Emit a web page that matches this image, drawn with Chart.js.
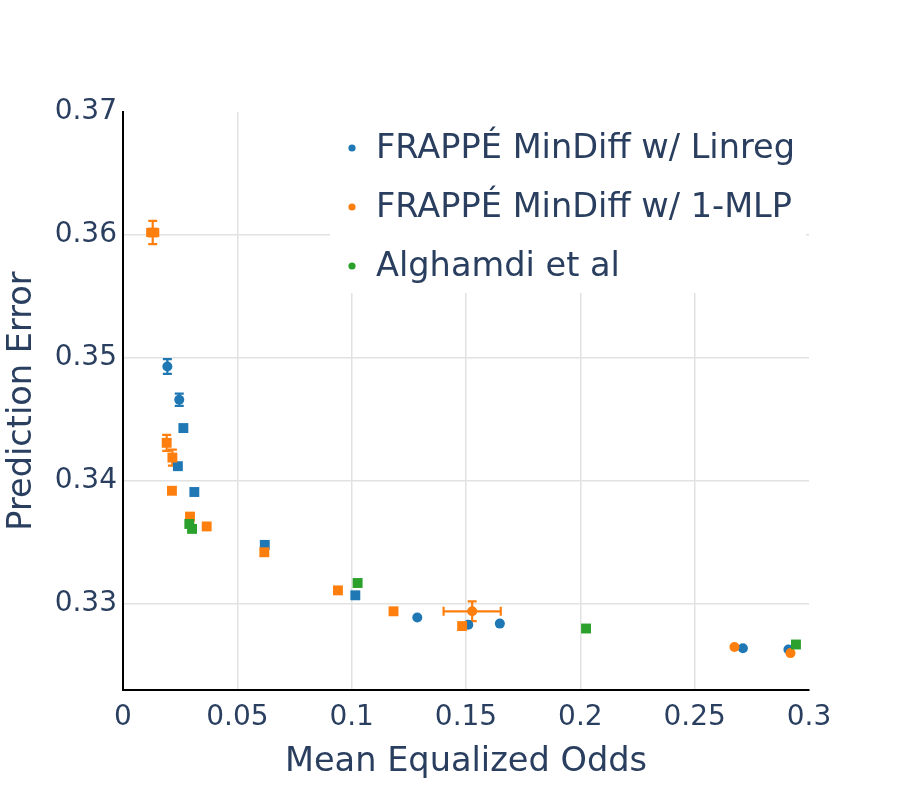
<!DOCTYPE html>
<html>
<head>
<meta charset="utf-8">
<script src="https://cdn.jsdelivr.net/npm/chart.js@4.4.0/dist/chart.umd.min.js"></script>
<style>
  html, body { margin: 0; padding: 0; background: #fff; }
  #wrap { width: 900px; height: 787px; }
</style>
</head>
<body>
<div id="wrap"><canvas id="chart"></canvas></div>
<script>
const seriesNames = ['FRAPPÉ MinDiff w/ Linreg', 'FRAPPÉ MinDiff w/ 1-MLP', 'Alghamdi et al'];
const seriesColors = ['#1f77b4', '#ff7f0e', '#2ca02c'];
const xTicks = [0, 0.05, 0.1, 0.15, 0.2, 0.25, 0.3];
const yTicks = [0.33, 0.34, 0.35, 0.36, 0.37];

// Linreg runs, round markers (ex / ey = error bar half length)
const linregRound = [
  { x: 0.0194, y: 0.3493, ey: 0.0006 },
  { x: 0.0246, y: 0.3466, ey: 0.0005 },
  { x: 0.1287, y: 0.3289 },
  { x: 0.1510, y: 0.3283 },
  { x: 0.1648, y: 0.3284 },
  { x: 0.2711, y: 0.3264 },
  { x: 0.2910, y: 0.3263 },
];
// Linreg runs, square markers
const linregSquare = [
  { x: 0.0264, y: 0.3443 },
  { x: 0.0240, y: 0.3412 },
  { x: 0.0312, y: 0.3391 },
  { x: 0.0620, y: 0.3348 },
  { x: 0.1016, y: 0.3307 },
];
const mlpRound = [
  { x: 0.1527, y: 0.3294, ex: 0.0125, ey: 0.0008 },
  { x: 0.2674, y: 0.3265 },
  { x: 0.2919, y: 0.3260 },
];
const mlpSquare = [
  { x: 0.0130, y: 0.3602, ex: 0.0024, ey: 0.00095 },
  { x: 0.0191, y: 0.3431, ey: 0.00065 },
  { x: 0.0216, y: 0.3419, ey: 0.00065 },
  { x: 0.0214, y: 0.3392 },
  { x: 0.0293, y: 0.3371 },
  { x: 0.0366, y: 0.3363 },
  { x: 0.0618, y: 0.3342 },
  { x: 0.0940, y: 0.3311 },
  { x: 0.1183, y: 0.3294 },
  { x: 0.1483, y: 0.3282 },
];
const alghamdiSquare = [
  { x: 0.0290, y: 0.3365 },
  { x: 0.0302, y: 0.3361 },
  { x: 0.1026, y: 0.3317 },
  { x: 0.2025, y: 0.3280 },
  { x: 0.2943, y: 0.3267 },
];

const textColor = '#2a3f5f';
const fontFamily = "'DejaVu Sans', sans-serif";

let mkSet = (series, data, square, order) => ({
  label: seriesNames[series],
  data: data,
  backgroundColor: seriesColors[series],
  borderColor: seriesColors[series],
  borderWidth: 0,
  pointStyle: square ? 'rect' : 'circle',
  pointRadius: square ? 7 : 5,
  pointHoverRadius: square ? 7 : 5,
  order: order,
});

// error bars, drawn with the chart's own scales
const errorBars = {
  id: 'errorBars',
  beforeDatasetsDraw(chart) {
    const { ctx, scales } = chart;
    const cap = 4.5;
    ctx.save();
    ctx.lineWidth = 2.2;
    chart.data.datasets.forEach((ds) => {
      ctx.strokeStyle = ds.borderColor;
      ds.data.forEach((p) => {
        const px = scales.x.getPixelForValue(p.x);
        const py = scales.y.getPixelForValue(p.y);
        ctx.beginPath();
        if (p.ey) {
          const y0 = scales.y.getPixelForValue(p.y - p.ey);
          const y1 = scales.y.getPixelForValue(p.y + p.ey);
          ctx.moveTo(px, y0); ctx.lineTo(px, y1);
          ctx.moveTo(px - cap, y0); ctx.lineTo(px + cap, y0);
          ctx.moveTo(px - cap, y1); ctx.lineTo(px + cap, y1);
        }
        if (p.ex) {
          const x0 = scales.x.getPixelForValue(p.x - p.ex);
          const x1 = scales.x.getPixelForValue(p.x + p.ex);
          ctx.moveTo(x0, py); ctx.lineTo(x1, py);
          ctx.moveTo(x0, py - cap); ctx.lineTo(x0, py + cap);
          ctx.moveTo(x1, py - cap); ctx.lineTo(x1, py + cap);
        }
        ctx.stroke();
      });
    });
    ctx.restore();
  },
};

// legend box inside the plot, like the original
const insideLegend = {
  id: 'insideLegend',
  afterDatasetsDraw(chart) {
    const { ctx } = chart;
    ctx.save();
    ctx.fillStyle = '#ffffff';
    ctx.fillRect(330, 100, 476, 193);
    ctx.font = '33.6px ' + fontFamily;
    ctx.textBaseline = 'middle';
    seriesNames.forEach((name, i) => {
      const y = 148 + i * 59;
      ctx.fillStyle = seriesColors[i];
      ctx.beginPath();
      ctx.arc(352, y, 3.6, 0, Math.PI * 2);
      ctx.fill();
      ctx.fillStyle = textColor;
      ctx.fillText(name, 376, y + 1);
    });
    ctx.restore();
  },
};

new Chart(document.getElementById('chart'), {
  type: 'scatter',
  data: {
    datasets: [
      mkSet(0, linregRound, false, 5),
      mkSet(0, linregSquare, true, 4),
      mkSet(1, mlpRound, false, 3),
      mkSet(1, mlpSquare, true, 2),
      mkSet(2, alghamdiSquare, true, 1),
    ],
  },
  options: {
    responsive: true,
    maintainAspectRatio: false,
    animation: false,
    layout: { padding: { left: 0, top: 112, right: 91, bottom: 0 } },
    plugins: {
      legend: { display: false },
      tooltip: { enabled: false },
    },
    scales: {
      x: {
        type: 'linear',
        min: 0,
        max: 0.3,
        afterBuildTicks: (s) => { s.ticks = xTicks.map((v) => ({ value: v })); },
        afterFit: (s) => { s.height = 97; },
        ticks: {
          autoSkip: false,
          maxRotation: 0,
          padding: 11,
          color: textColor,
          font: { family: fontFamily, size: 28 },
          callback: (v) => String(v),
        },
        grid: {
          drawTicks: false,
          lineWidth: 1.5,
          color: (c) => (c.tick && (c.tick.value === 0 || c.tick.value === 0.3)) ? 'rgba(0,0,0,0)' : '#e2e2e2',
        },
        border: { display: true, color: '#000', width: 2 },
        title: {
          display: true,
          text: 'Mean Equalized Odds',
          color: textColor,
          font: { family: fontFamily, size: 33.6 },
          padding: { top: 5, bottom: 5 },
        },
      },
      y: {
        type: 'linear',
        min: 0.323,
        max: 0.37,
        afterBuildTicks: (s) => { s.ticks = yTicks.map((v) => ({ value: v })); },
        afterFit: (s) => { s.width = 123; },
        ticks: {
          autoSkip: false,
          padding: 6,
          color: textColor,
          font: { family: fontFamily, size: 28 },
          callback: (v) => String(v),
        },
        grid: {
          drawTicks: false,
          lineWidth: 1.5,
          color: (c) => (c.tick && c.tick.value === 0.37) ? 'rgba(0,0,0,0)' : '#e2e2e2',
        },
        border: { display: true, color: '#000', width: 2 },
        title: {
          display: true,
          text: 'Prediction Error',
          color: textColor,
          font: { family: fontFamily, size: 33.6 },
          padding: { top: 2, bottom: 2 },
        },
      },
    },
  },
  plugins: [errorBars, insideLegend],
});
</script>
</body>
</html>
